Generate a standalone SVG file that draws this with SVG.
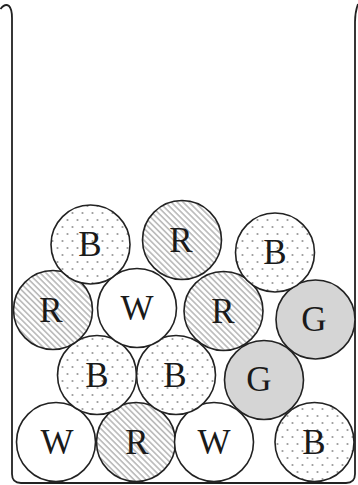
<svg xmlns="http://www.w3.org/2000/svg" width="358" height="485" viewBox="0 0 358 485">
<style>
.ball{stroke:#222;stroke-width:1.6}
.w{fill:#fff}
.b{fill:url(#dots)}
.r{fill:url(#hatch)}
.g{fill:#d5d5d5}
.lbl{font-family:"Liberation Serif","Times New Roman",serif;font-size:35px;fill:#1a1a1a;text-anchor:middle}
.wall{fill:none;stroke:#222;stroke-width:1.8;stroke-linejoin:round}
</style>
<defs>
<pattern id="dots" patternUnits="userSpaceOnUse" width="10" height="14">
<rect width="10" height="14" fill="#fff"/>
<circle cx="2.5" cy="3" r="1.1" fill="#9a9a9a"/>
<circle cx="7.5" cy="10" r="1.1" fill="#9a9a9a"/>
</pattern>
<pattern id="hatch" patternUnits="userSpaceOnUse" width="4.2" height="4.2" patternTransform="rotate(45)">
<rect width="4.2" height="4.2" fill="#fff"/>
<rect y="0" width="4.2" height="1.7" fill="#bdbdbd"/>
</pattern>
</defs>
<g id="container">
<path class="wall" d="M0.5,9 Q5,3 9,6 Q12,9 12,18 L12,474 Q12,483 21,483 L346,483 Q355,483 355,474 L355,22 Q355,12 358,4"/>
</g>
<g id="connectors"></g>
<g id="ball-w1"><circle class="ball w" cx="56" cy="442" r="39.5"/><text class="lbl" x="57" y="454">W</text></g>
<g id="ball-r1"><circle class="ball r" cx="136" cy="442" r="39.5"/><text class="lbl" x="137" y="454">R</text></g>
<g id="ball-w2"><circle class="ball w" cx="214" cy="442" r="39.5"/><text class="lbl" x="214" y="454">W</text></g>
<g id="ball-b1"><circle class="ball b" cx="314.5" cy="442" r="39.5"/><text class="lbl" x="314" y="454">B</text></g>
<g id="ball-b2"><circle class="ball b" cx="97" cy="375" r="39.5"/><text class="lbl" x="97" y="387">B</text></g>
<g id="ball-b3"><circle class="ball b" cx="176" cy="375" r="39.5"/><text class="lbl" x="175" y="387">B</text></g>
<g id="ball-g1"><circle class="ball g" cx="264" cy="380" r="39.5"/><text class="lbl" x="259" y="391">G</text></g>
<g id="ball-r2"><circle class="ball r" cx="53" cy="310" r="39.5"/><text class="lbl" x="51" y="322">R</text></g>
<g id="ball-w3"><circle class="ball w" cx="137" cy="308" r="39.5"/><text class="lbl" x="137" y="320">W</text></g>
<g id="ball-r3"><circle class="ball r" cx="223.5" cy="311" r="39.5"/><text class="lbl" x="223" y="323">R</text></g>
<g id="ball-g2"><circle class="ball g" cx="315.5" cy="319.5" r="39.5"/><text class="lbl" x="314" y="331">G</text></g>
<g id="ball-b4"><circle class="ball b" cx="90.5" cy="244.5" r="39.5"/><text class="lbl" x="90" y="256">B</text></g>
<g id="ball-r4"><circle class="ball r" cx="182" cy="240" r="39.5"/><text class="lbl" x="181" y="252">R</text></g>
<g id="ball-b5"><circle class="ball b" cx="275" cy="252.5" r="39.5"/><text class="lbl" x="275" y="264">B</text></g>
</svg>
